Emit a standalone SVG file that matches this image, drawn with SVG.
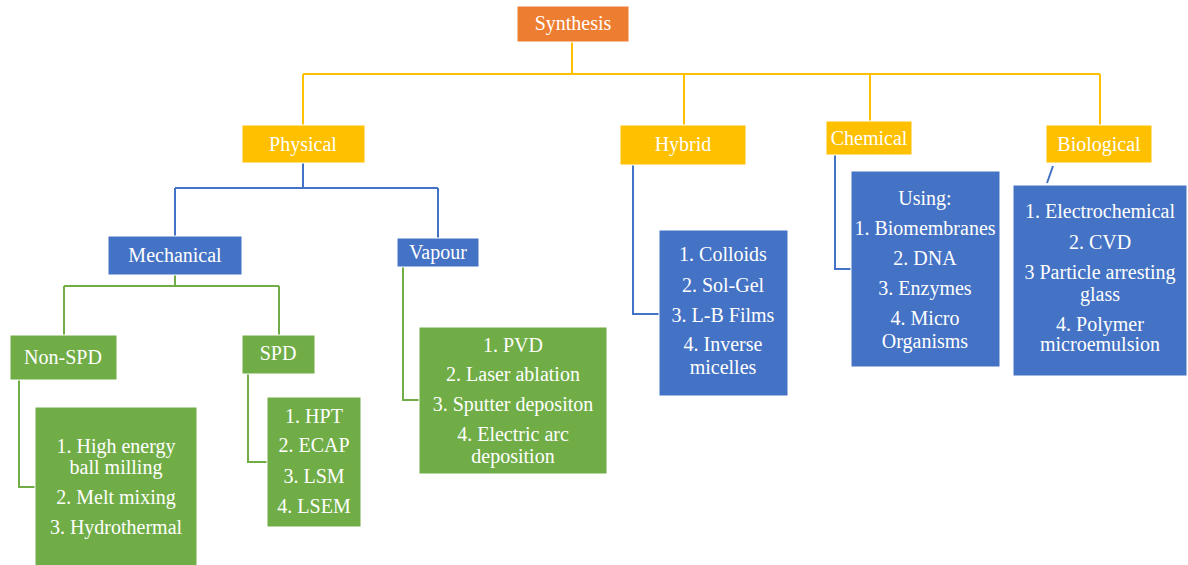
<svg xmlns="http://www.w3.org/2000/svg" width="1188" height="565" viewBox="0 0 1188 565">
<style>
.or{fill:#ED7D31;stroke:#fff;stroke-width:1}
.go{fill:#FFC000;stroke:#fff;stroke-width:1}
.bl{fill:#4472C4;stroke:#fff;stroke-width:1}
.gr{fill:#70AD47;stroke:#fff;stroke-width:1}
.cy{fill:none;stroke:#FFC000;stroke-width:2}
.cb{fill:none;stroke:#4472C4;stroke-width:2}
.cg{fill:none;stroke:#70AD47;stroke-width:2}
</style>
<rect width="1188" height="565" fill="#fff"/>
<g id="connectors">
<path class="cy" d="M572 42V74M303 74H1100M303 74V125M684 74V125M870 74V121M1100 74V125"/>
<path class="cb" d="M303 163V188M175 188H438M175 188V236M438 188V238"/>
<path class="cg" d="M175 275V286M64 286H279M64 286V335M279 286V335"/>
<path class="cg" d="M19 380V487H35M248 374V462H267M403 267V400H419"/>
<path class="cb" d="M633 165V314H659M835 155V269H851M1053 166L1047 183"/>
</g>
<g font-family="Liberation Serif, Times New Roman, DejaVu Serif, serif" font-size="20" fill="#fff" text-anchor="middle">
<g id="synthesis"><rect class="or" x="517" y="6" width="112" height="36"/><text x="573" y="30">Synthesis</text></g>
<g id="physical"><rect class="go" x="242" y="125" width="123" height="38"/><text x="303" y="151">Physical</text></g>
<g id="hybrid"><rect class="go" x="620" y="125" width="126" height="40"/><text x="683" y="151">Hybrid</text></g>
<g id="chemical"><rect class="go" x="826" y="121" width="86" height="34"/><text x="869" y="145">Chemical</text></g>
<g id="biological"><rect class="go" x="1046" y="125" width="106" height="38"/><text x="1099" y="151">Biological</text></g>
<g id="mechanical"><rect class="bl" x="108" y="236" width="134" height="39"/><text x="175" y="262">Mechanical</text></g>
<g id="vapour"><rect class="bl" x="397" y="238" width="82" height="29"/><text x="438" y="259">Vapour</text></g>
<g id="non-spd"><rect class="gr" x="10" y="335" width="107" height="45"/><text x="63" y="364">Non-SPD</text></g>
<g id="spd"><rect class="gr" x="242" y="335" width="73" height="39"/><text x="278" y="360">SPD</text></g>
<g id="non-spd-list"><rect class="gr" x="35" y="407" width="162" height="160"/>
<text x="116" y="453">1. High energy</text><text x="116" y="474">ball milling</text><text x="116" y="504">2. Melt mixing</text><text x="116" y="534">3. Hydrothermal</text></g>
<g id="spd-list"><rect class="gr" x="267" y="397" width="94" height="130"/>
<text x="314" y="423">1. HPT</text><text x="314" y="452">2. ECAP</text><text x="314" y="483">3. LSM</text><text x="314" y="513">4. LSEM</text></g>
<g id="vapour-list"><rect class="gr" x="419" y="327" width="188" height="147"/>
<text x="513" y="352">1. PVD</text><text x="513" y="381">2. Laser ablation</text><text x="513" y="411">3. Sputter depositon</text><text x="513" y="441">4. Electric arc</text><text x="513" y="463">deposition</text></g>
<g id="hybrid-list"><rect class="bl" x="659" y="230" width="129" height="166"/>
<text x="723" y="261">1. Colloids</text><text x="723" y="292">2. Sol-Gel</text><text x="723" y="322">3. L-B Films</text><text x="723" y="351">4. Inverse</text><text x="723" y="374">micelles</text></g>
<g id="chemical-list"><rect class="bl" x="851" y="171" width="149" height="196"/>
<text x="925" y="205">Using:</text><text x="925" y="235">1. Biomembranes</text><text x="925" y="265">2. DNA</text><text x="925" y="295">3. Enzymes</text><text x="925" y="325">4. Micro</text><text x="925" y="348">Organisms</text></g>
<g id="biological-list"><rect class="bl" x="1013" y="185" width="174" height="191"/>
<text x="1100" y="218">1. Electrochemical</text><text x="1100" y="249">2. CVD</text><text x="1100" y="279">3 Particle arresting</text><text x="1100" y="301">glass</text><text x="1100" y="331">4. Polymer</text><text x="1100" y="351">microemulsion</text></g>
</g>
</svg>
